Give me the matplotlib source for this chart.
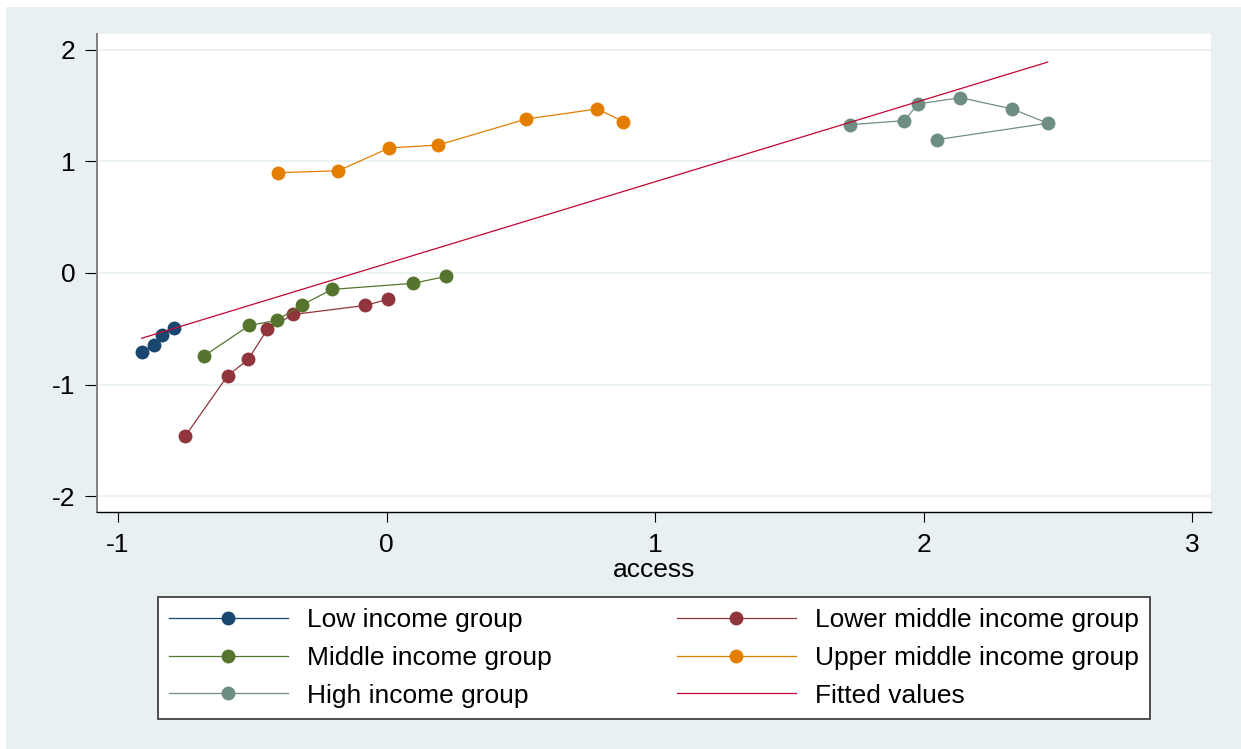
import matplotlib
matplotlib.use("Agg")
import matplotlib.pyplot as plt
from matplotlib.patches import Rectangle
import numpy as np

plt.rcParams["font.family"] = ["Liberation Sans", "DejaVu Sans"]
plt.rcParams["axes.unicode_minus"] = False

# ----------------------------------
# data
# ----------------------------------

low_x = [-0.912, -0.865, -0.836, -0.793]
low_y = [-0.708, -0.648, -0.557, -0.495]

lower_mid_x = [-0.749, -0.592, -0.515, -0.444, -0.348, -0.079, 0.004]
lower_mid_y = [-1.461, -0.922, -0.775, -0.506, -0.372, -0.291, -0.237]

mid_x = [-0.679, -0.511, -0.409, -0.314, -0.203, 0.098, 0.223]
mid_y = [-0.743, -0.470, -0.425, -0.285, -0.147, -0.093, -0.030]

upper_mid_x = [-0.404, -0.180, 0.010, 0.193, 0.521, 0.785, 0.882]
upper_mid_y = [0.899, 0.917, 1.121, 1.148, 1.381, 1.471, 1.357]

high_x = [1.727, 1.928, 1.979, 2.137, 2.330, 2.462, 2.050]
high_y = [1.330, 1.366, 1.516, 1.572, 1.471, 1.343, 1.196]

fit_intercept = 0.084
fit_slope = 0.734

labels = [
    "Low income group",
    "Lower middle income group",
    "Middle income group",
    "Upper middle income group",
    "High income group",
    "Fitted values",
]

colors = ["#1a476f", "#90353b", "#55752f", "#e37e00", "#6e8e84", "#c10534"]

# ----------------------------------
# figure
# ----------------------------------

fig = plt.figure(figsize=(12.41, 7.49), dpi=100, facecolor="white")
fig.patches.append(
    Rectangle((6 / 1241, 0), 1, 1 - 7 / 749, transform=fig.transFigure,
              facecolor="#e8f0f2", edgecolor="none", zorder=-10)
)

ax = fig.add_axes([97 / 1241, 1 - 512 / 749, (1211 - 97) / 1241, (512 - 34) / 749])
ax.set_facecolor("white")

series = [
    (low_x, low_y),
    (lower_mid_x, lower_mid_y),
    (mid_x, mid_y),
    (upper_mid_x, upper_mid_y),
    (high_x, high_y),
]

handles = []
for (xs, ys), lab, col in zip(series, labels[:5], colors[:5]):
    h, = ax.plot(xs, ys, "-o", color=col, lw=0.9, ms=10,
                 markeredgewidth=0, label=lab, zorder=3)
    handles.append(h)

all_x = np.concatenate([np.array(s[0]) for s in series])
fx = np.array([all_x.min(), all_x.max()])
h, = ax.plot(fx, fit_intercept + fit_slope * fx, color=colors[5], lw=0.9,
             label=labels[5], zorder=4)
handles.append(h)

ax.set_xlim(-1.078, 3.070)
ax.set_ylim(-2.143, 2.143)
ax.set_xticks([-1, 0, 1, 2, 3])
ax.set_yticks([-2, -1, 0, 1, 2])
ax.yaxis.grid(True, color="#e8f0f2", lw=1.2)
ax.set_axisbelow(True)

for s in ["top", "right"]:
    ax.spines[s].set_visible(False)
ax.spines["left"].set_color("#808080")
ax.spines["left"].set_linewidth(1.4)
ax.spines["bottom"].set_color("black")
ax.spines["bottom"].set_linewidth(1.0)

ax.tick_params(axis="y", length=8.5, width=0.8, pad=7, labelsize=19)
ax.tick_params(axis="x", length=7, width=0.8, pad=8, labelsize=19)
ax.set_xlabel("access", fontsize=19, labelpad=1)

# legend filled row by row, as in the original
order = [0, 2, 4, 1, 3, 5]
leg = fig.legend(
    handles=[handles[i] for i in order],
    labels=[labels[i] for i in order],
    ncol=2,
    loc="upper left",
    bbox_to_anchor=(158 / 1241, 1 - 597 / 749),
    fontsize=19,
    frameon=True,
    fancybox=False,
    framealpha=1,
    edgecolor="#404040",
    handlelength=4.5,
    handletextpad=0.72,
    columnspacing=4.75,
    labelspacing=0.52,
    borderpad=0.42,
    borderaxespad=0,
)
leg.get_frame().set_linewidth(1.3)

fig.savefig("out.png", dpi=100, facecolor=fig.get_facecolor())
